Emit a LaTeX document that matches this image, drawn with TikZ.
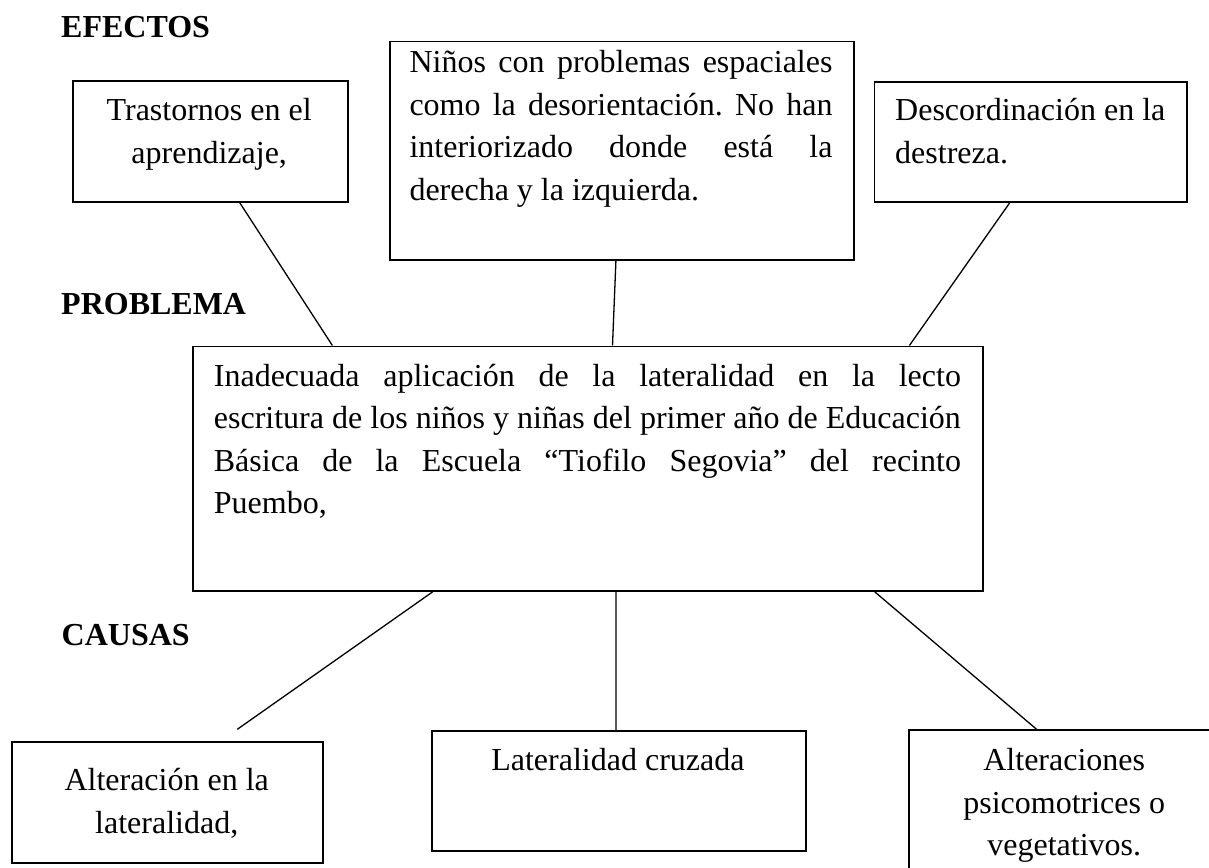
\documentclass[tikz,border=0pt]{standalone}
\usepackage{fontspec}
\setmainfont{Liberation Serif}
\frenchspacing
\begin{document}
\begin{tikzpicture}[x=1pt,y=-1pt,
  box/.style={draw=black, line width=1.8pt, rectangle, inner sep=0pt, anchor=north west},
  link/.style={draw=black, line width=1.3pt},
  txt/.style={inner sep=0pt, font=\fontsize{32}{42.5}\selectfont},
  head/.style={inner sep=0pt, anchor=base west, font=\fontsize{32}{38}\selectfont\bfseries}]
\fill[white] (0,0) rectangle (1209,867);
\useasboundingbox (0,0) rectangle (1209,867);
\clip (0,0) rectangle (1209,867);

% headings
\node[head] (hef) at (61,37.7) {EFECTOS};
\node[head] (hpr) at (61,314) {PROBLEMA};
\node[head] (hca) at (61.5,645.7) {CAUSAS};

% effect boxes
\node[box, minimum width=275pt, minimum height=120.7pt] (b1) at (71.7,80) {};
\node[txt, anchor=base] (t1) at (209.2,120.7) {\parbox[t]{270pt}{\centering Trastornos en el\\aprendizaje,}};

\node[box, minimum width=463.4pt, minimum height=218.6pt] (b2) at (389.3,40.7) {};
\node[txt, anchor=base west] (t2) at (409.3,72.7) {\parbox[t]{423pt}{%
\makebox[\linewidth][s]{Niños con problemas espaciales}\\
\makebox[\linewidth][s]{como la desorientación. No han}\\
\makebox[\linewidth][s]{interiorizado donde está la}\\
derecha y la izquierda.}};

\node[box, minimum width=312.5pt, minimum height=120pt] (b3) at (873.5,80.7) {};
\node[txt, anchor=base west] (t3) at (895,120.7) {\parbox[t]{290pt}{\raggedright Descordinación en la\\destreza.}};

% problem box
\node[box, minimum width=790pt, minimum height=244.5pt] (main) at (192,345.5) {};
\node[txt, anchor=base west] (tm) at (213.7,386) {\parbox[t]{747pt}{%
\makebox[\linewidth][s]{Inadecuada aplicación de la lateralidad en la lecto}\\
\makebox[\linewidth][s]{escritura de los niños y niñas del primer año de Educación}\\
\makebox[\linewidth][s]{Básica de la Escuela “Tiofilo Segovia” del recinto}\\
Puembo,}};

% cause boxes
\node[box, minimum width=311.3pt, minimum height=120.7pt] (ca) at (11,741) {};
\node[txt, anchor=base] (tca) at (166.7,790.7) {\parbox[t]{300pt}{\centering Alteración en la\\lateralidad,}};

\node[box, minimum width=373.7pt, minimum height=120pt] (cb) at (431,730) {};
\node[txt, anchor=base] (tcb) at (617.9,770.7) {\parbox[t]{360pt}{\centering Lateralidad cruzada}};

\node[box, minimum width=311.8pt, minimum height=165pt] (cc) at (908.3,729.3) {};
\node[txt, anchor=base] (tcc) at (1064.2,770.7) {\parbox[t]{300pt}{\centering Alteraciones\\psicomotrices o\\vegetativos.}};

\coordinate (ae) at (237.3,729.3);

% connectors
\draw[link] ([xshift=29.5pt]b1.south) -- ([xshift=-255.5pt]main.north);
\draw[link] ([xshift=-6pt]b2.south) -- ([xshift=24.6pt]main.north);
\draw[link] ([xshift=-20.75pt]b3.south) -- ([xshift=321.5pt]main.north);
\draw[link] ([xshift=-155.2pt]main.south) -- (ae);
\draw[link] ([xshift=28pt]main.south) -- ([xshift=-2.85pt]cb.north);
\draw[link] ([xshift=286.8pt]main.south) -- ([xshift=-28.5pt]cc.north);
\end{tikzpicture}
\end{document}
